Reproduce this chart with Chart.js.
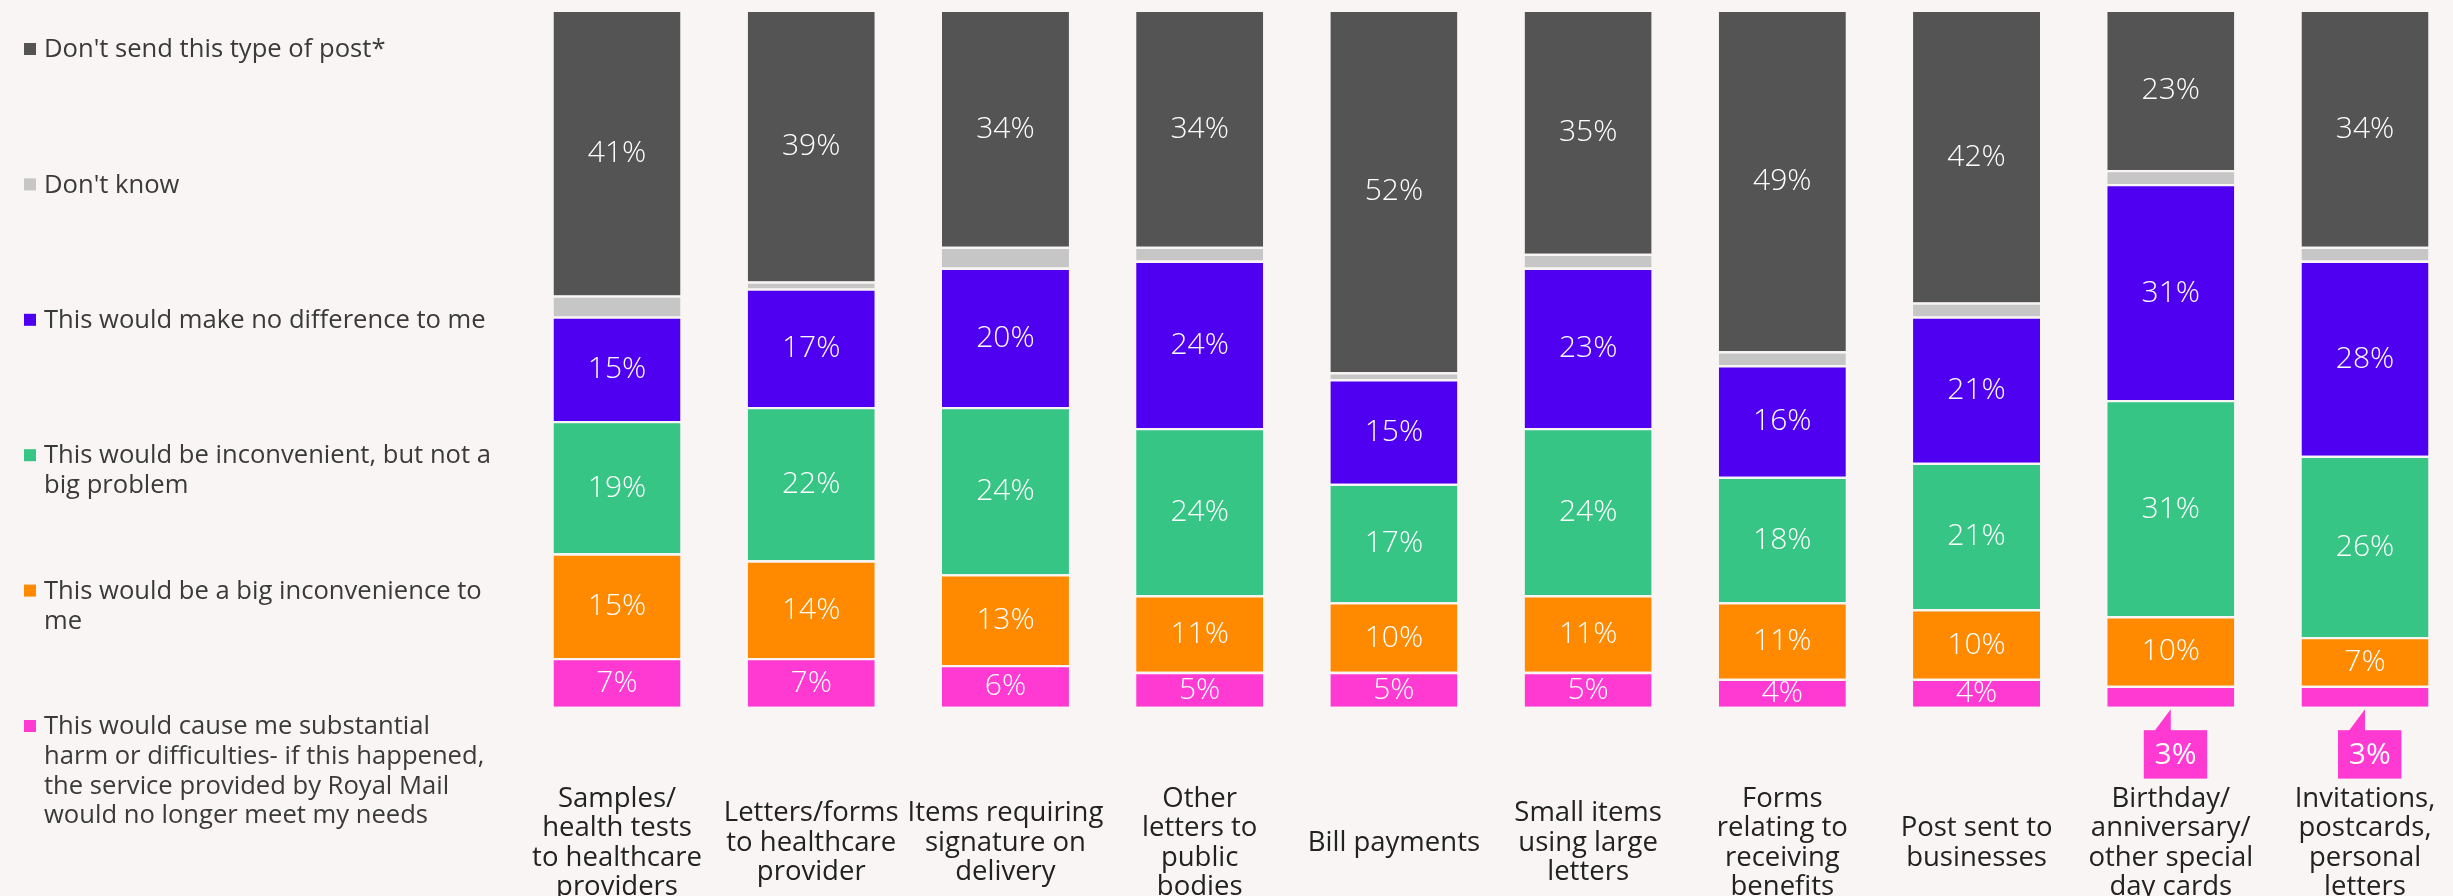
<!DOCTYPE html>
<html>
<head>
<meta charset="utf-8">
<title>Impact of slower delivery by type of post</title>
<script src="https://cdn.jsdelivr.net/npm/chart.js@4/dist/chart.umd.min.js"></script>
<style>
  html, body { margin: 0; padding: 0; background: #f8f5f4; overflow: hidden; }
  #wrap { position: relative; width: 2453px; height: 896px; }
  canvas { display: block; }
</style>
</head>
<body>
<div id="wrap"><canvas id="chart" width="2453" height="896"></canvas></div>
<script>
// Categories (multi-line tick labels)
const categories = [
  ['Samples/', 'health tests', 'to healthcare', 'providers'],
  ['Letters/forms', 'to healthcare', 'provider'],
  ['Items requiring', 'signature on', 'delivery'],
  ['Other', 'letters to', 'public', 'bodies'],
  ['Bill payments'],
  ['Small items', 'using large', 'letters'],
  ['Forms', 'relating to', 'receiving', 'benefits'],
  ['Post sent to', 'businesses'],
  ['Birthday/', 'anniversary/', 'other special', 'day cards'],
  ['Invitations,', 'postcards,', 'personal', 'letters']
];

// Series values (% of respondents), bottom of the stack first
const substantialHarm    = [7, 7, 6, 5, 5, 5, 4, 4, 3, 3];
const bigInconvenience   = [15, 14, 13, 11, 10, 11, 11, 10, 10, 7];
const inconvenientNotBig = [19, 22, 24, 24, 17, 24, 18, 21, 31, 26];
const noDifference       = [15, 17, 20, 24, 15, 23, 16, 21, 31, 28];
const dontKnow           = [3, 1, 3, 2, 1, 2, 2, 2, 2, 2];
const dontSend           = [41, 39, 34, 34, 52, 35, 49, 42, 23, 34];

const seriesLabels = {
  harm: 'This would cause me substantial harm or difficulties- if this happened, the service provided by Royal Mail would no longer meet my needs',
  big: 'This would be a big inconvenience to me',
  notBig: 'This would be inconvenient, but not a big problem',
  noDiff: 'This would make no difference to me',
  dk: "Don't know",
  send: "Don't send this type of post*"
};

const BG = '#f8f5f4';
const FONT = "'Open Sans', 'Noto Sans', sans-serif";

// Percent labels inside each segment; small segments get a callout below the bar
const valueLabels = {
  id: 'valueLabels',
  afterDatasetsDraw(chart) {
    const ctx = chart.ctx;
    ctx.save();
    ctx.textAlign = 'center';
    ctx.textBaseline = 'middle';
    chart.data.datasets.forEach((ds, di) => {
      if (ds.showValues === false) return;
      const meta = chart.getDatasetMeta(di);
      meta.data.forEach((bar, i) => {
        const v = ds.data[i];
        const p = bar.getProps(['x', 'y', 'base'], true);
        const txt = v + '%';
        if (v >= 4) {
          ctx.font = '300 30px ' + FONT;
          ctx.fillStyle = '#ffffff';
          ctx.fillText(txt, p.x, (p.y + p.base) / 2 + 1);
        } else {
          const tipY = p.base + 2.5;
          const boxTop = p.base + 23.5;
          const boxW = 63.4, boxH = 48.4;
          const boxL = p.x - 27;
          ctx.fillStyle = ds.backgroundColor;
          ctx.beginPath();
          ctx.moveTo(p.x, tipY);
          ctx.lineTo(p.x, boxTop + 1);
          ctx.lineTo(p.x - 16.5, boxTop + 1);
          ctx.closePath();
          ctx.fill();
          ctx.fillRect(boxL, boxTop, boxW, boxH);
          ctx.font = '400 30px ' + FONT;
          ctx.fillStyle = '#ffffff';
          ctx.fillText(txt, boxL + boxW / 2, boxTop + boxH / 2 + 1);
        }
      });
    });
    ctx.restore();
  }
};

// Left-hand legend with wrapped text, top series first
const sideLegend = {
  id: 'sideLegend',
  afterDraw(chart) {
    const ctx = chart.ctx;
    const items = chart.data.datasets.slice().reverse();
    const x0 = 24, box = 12, textX = 44, maxW = 452;
    const firstY = 49, step = 135.4, lineH = 29.7;
    ctx.save();
    ctx.font = '400 25.6px ' + FONT;
    ctx.textBaseline = 'middle';
    ctx.textAlign = 'left';
    items.forEach((ds, k) => {
      const cy = firstY + k * step;
      ctx.fillStyle = ds.backgroundColor;
      ctx.fillRect(x0, cy - box / 2, box, box);
      const words = ds.label.split(' ');
      const lines = [];
      let line = '';
      words.forEach(w => {
        const test = line ? line + ' ' + w : w;
        if (ctx.measureText(test).width > maxW && line) {
          lines.push(line);
          line = w;
        } else {
          line = test;
        }
      });
      if (line) lines.push(line);
      ctx.fillStyle = '#3a3a3a';
      lines.forEach((l, j) => ctx.fillText(l, textX, cy + j * lineH + 1));
    });
    ctx.restore();
  }
};

const barStyle = {
  borderColor: BG,
  borderWidth: { top: 2.3, right: 0, bottom: 0, left: 0 },
  borderSkipped: false,
  barPercentage: 0.654,
  categoryPercentage: 1,
  clip: false
};

new Chart(document.getElementById('chart'), {
  type: 'bar',
  data: {
    labels: categories,
    datasets: [
      Object.assign({ label: seriesLabels.harm, data: substantialHarm, backgroundColor: '#ff3ad2' }, barStyle),
      Object.assign({ label: seriesLabels.big, data: bigInconvenience, backgroundColor: '#ff8a00' }, barStyle),
      Object.assign({ label: seriesLabels.notBig, data: inconvenientNotBig, backgroundColor: '#37c585' }, barStyle),
      Object.assign({ label: seriesLabels.noDiff, data: noDifference, backgroundColor: '#5000f0' }, barStyle),
      Object.assign({ label: seriesLabels.dk, data: dontKnow, backgroundColor: '#c6c6c6', showValues: false }, barStyle),
      Object.assign({ label: seriesLabels.send, data: dontSend, backgroundColor: '#545454' }, barStyle)
    ]
  },
  options: {
    responsive: false,
    animation: false,
    devicePixelRatio: 1,
    layout: { padding: { left: 617, right: 88, top: 9.7, bottom: 0 } },
    plugins: {
      legend: { display: false },
      tooltip: { enabled: false }
    },
    scales: {
      x: {
        stacked: true,
        offset: false,
        grid: { display: false, drawTicks: false },
        border: { display: false },
        ticks: {
          autoSkip: false,
          maxRotation: 0,
          minRotation: 0,
          crossAlign: 'center',
          padding: 92,
          color: '#222222',
          font: { family: FONT, size: 27.5, lineHeight: 29.5 / 27.5 }
        },
        afterFit(scale) {
          scale.height = 189.3;
          // labels may hang past the plot edges; keep the plot width fixed
          scale.paddingLeft = 0;
          scale.paddingRight = 0;
        }
      },
      y: {
        stacked: true,
        display: false,
        min: 0,
        max: 100
      }
    }
  },
  plugins: [valueLabels, sideLegend]
});
</script>
</body>
</html>
